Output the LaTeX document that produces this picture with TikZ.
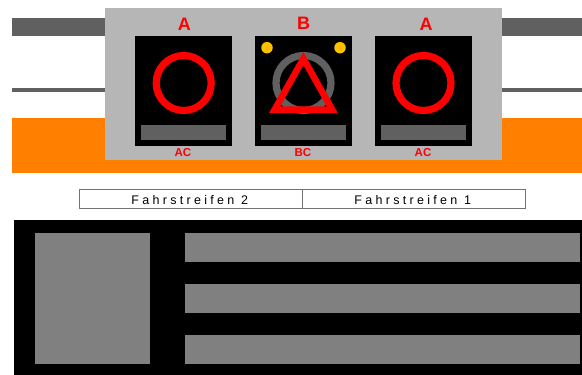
\documentclass[tikz,border=0pt]{standalone}
\usepackage{fontspec}
\setmainfont{Liberation Sans}
\newfontfamily\lanefont[LetterSpace=26.5]{Liberation Sans}
\usetikzlibrary{positioning}
\definecolor{darkbar}{RGB}{96,96,96}
\definecolor{panelgray}{RGB}{182,182,182}
\definecolor{roadorange}{RGB}{255,128,0}
\definecolor{lampgold}{RGB}{255,192,0}
\definecolor{fieldgray}{RGB}{128,128,128}

\begin{document}
\begin{tikzpicture}[x=1pt, y=-1pt,
    band/.style={inner sep=0pt, outer sep=0pt, minimum height=#1},
    signbox/.style={fill=black, inner sep=0pt, minimum width=97pt, minimum height=110pt},
    signbar/.style={fill=darkbar, inner sep=0pt, minimum width=85pt, minimum height=15pt},
    ring/.style={circle, draw=red, line width=7.2pt, inner sep=0pt, minimum size=55pt},
    lamp/.style={circle, fill=lampgold, inner sep=0pt, minimum size=11.5pt},
    biglabel/.style={text=red, font=\bfseries\fontsize{18}{18}\selectfont, inner sep=0pt},
    smalllabel/.style={text=red, font=\bfseries\fontsize{11.5}{11.5}\selectfont, inner sep=0pt},
    lanebox/.style={draw=black!55, line width=0.8pt, fill=white, minimum width=223pt, minimum height=19pt, inner sep=0pt, text height=11pt, text depth=0pt, font=\lanefont\fontsize{12.5}{12.5}\selectfont},
    fieldbox/.style={fill=fieldgray, inner sep=0pt}]
    \useasboundingbox (0,0) rectangle (582,375);

    % road behind the gantry
    \node[band=18pt, fill=darkbar, minimum width=570pt] (topbar) at (297,27) {};
    \node[band=4pt, fill=darkbar, minimum width=570pt] (thinbar) at (297,90) {};
    \node[band=55pt, fill=roadorange, minimum width=570pt] (road) at (297,145.5) {};

    \node[fill=panelgray, inner sep=0pt, minimum width=397pt, minimum height=152pt] (panel) at (303.5,84) {};

    % the three signs
    \node[signbox] (signa) at (183.5,90.5) {};
    \node[signbox] (signb) at (303.5,90.5) {};
    \node[signbox] (signc) at (423.5,90.5) {};
    \node[signbar] (bara) at (183.5,132.5) {};
    \node[signbar] (barb) at (303.5,132.5) {};
    \node[signbar] (barc) at (423.5,132.5) {};

    \node[ring] (ringa) at (183.7,83) {};
    \node[ring, draw=darkbar] (ringb) at (303.5,83) {};
    \node[ring] (ringc) at (423.5,83) {};
    \node[lamp] (lampl) at (267,47.7) {};
    \node[lamp] (lampr) at (340,47.7) {};
    \draw[red, line width=6.5pt, miter limit=10] (303.4,58.6) -- (332.1,109.5) -- (274.7,109.5) -- cycle;

    \node[biglabel] (laba) at (184.3,24) {A};
    \node[biglabel] (labb) at (303.5,23.5) {B};
    \node[biglabel] (labc) at (426,24) {A};
    \node[smalllabel] (suba) at (183,153) {AC};
    \node[smalllabel] (subb) at (303,153) {BC};
    \node[smalllabel] (subc) at (423,153) {AC};

    % lane header
    \node[lanebox] (lane2) at (190.5,198.5) {Fahrstreifen 2\hspace*{1.5pt}};
    \node[lanebox] (lane1) at (413.5,198.5) {Fahrstreifen 1\hspace*{1.5pt}};

    % lower display
    \node[fill=black, inner sep=0pt, minimum width=568pt, minimum height=155pt] (board) at (298,297.5) {};
    \node[fieldbox, minimum width=115pt, minimum height=130.5pt] (fieldbig) at (92.8,298.25) {};
    \node[fieldbox, minimum width=395pt, minimum height=29pt] (fieldone) at (382.5,247.5) {};
    \node[fieldbox, minimum width=395pt, minimum height=29pt] (fieldtwo) at (382.5,298.5) {};
    \node[fieldbox, minimum width=395pt, minimum height=28.5pt] (fieldthree) at (382.5,349.25) {};
\end{tikzpicture}
\end{document}
